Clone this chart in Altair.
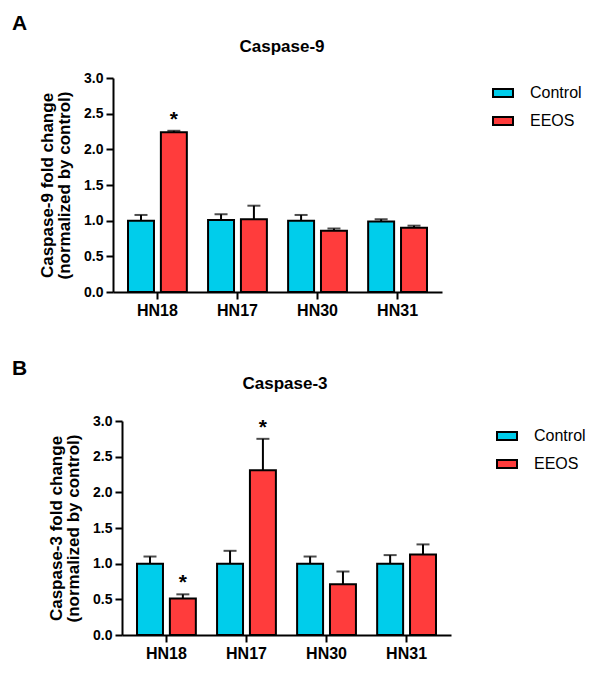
import altair as alt
import pandas as pd

FONT = "Liberation Sans"

cells = ["HN18", "HN17", "HN30", "HN31"]
groups = ["Control", "EEOS"]
colors = ["#00CDEB", "#FF3C3C"]

casp9_control = [1.00, 1.01, 1.00, 0.99]
casp9_control_err = [0.08, 0.08, 0.08, 0.03]
casp9_eeos = [2.24, 1.02, 0.86, 0.90]
casp9_eeos_err = [0.02, 0.19, 0.03, 0.03]
casp9_eeos_sig = [True, False, False, False]

casp3_control = [1.00, 1.00, 1.00, 1.00]
casp3_control_err = [0.10, 0.18, 0.10, 0.12]
casp3_eeos = [0.51, 2.31, 0.71, 1.13]
casp3_eeos_err = [0.06, 0.44, 0.18, 0.14]
casp3_eeos_sig = [True, True, False, False]

y_ticks = [0.0, 0.5, 1.0, 1.5, 2.0, 2.5, 3.0]

PW, H = 329, 214


def make_df(ctrl, ctrl_err, eeos, eeos_err, sig):
    rows = []
    for i, c in enumerate(cells):
        rows.append({"cell": c, "group": "Control", "mean": ctrl[i],
                     "top": ctrl[i] + ctrl_err[i], "sig": False})
        rows.append({"cell": c, "group": "EEOS", "mean": eeos[i],
                     "top": eeos[i] + eeos_err[i], "sig": sig[i]})
    return pd.DataFrame(rows)


def panel(df, title, ytitle, letter, shift, head_dx, head_y, letter_y,
          legend_x, legend_y):
    yscale = alt.Scale(domain=[0, 3], nice=False)
    yaxis = alt.Axis(title=ytitle, values=y_ticks, format=".1f",
                     grid=False, labelFontSize=14,
                     labelFontWeight="bold", labelFont=FONT,
                     labelColor="black", tickSize=7, tickWidth=2,
                     tickColor="black", domainColor="black",
                     domainWidth=2, labelPadding=3, offset=-shift,
                     labelOverlap=False,
                     titleFont=FONT, titleFontSize=17,
                     titleFontWeight="bold", titleColor="black",
                     titlePadding=10, titleLineHeight=17)
    base = alt.Chart(df).encode(
        x=alt.X("cell:N", sort=cells,
                scale=alt.Scale(paddingInner=0.15, paddingOuter=0.13,
                                range=[shift, shift + PW]),
                axis=alt.Axis(title=None, labelAngle=0, labelFontSize=16,
                              labelFontWeight="bold", labelFont=FONT,
                              labelColor="black", tickSize=7, tickWidth=2,
                              tickColor="black", domainColor="black",
                              domainWidth=2, labelPadding=3)),
        xOffset=alt.XOffset("group:N", sort=groups,
                            scale=alt.Scale(paddingInner=0.21, paddingOuter=0.14)),
    )
    bars = base.mark_bar(stroke="black", strokeWidth=2, opacity=1).encode(
        y=alt.Y("mean:Q", scale=yscale, axis=yaxis),
        color=alt.Color("group:N", sort=groups,
                        scale=alt.Scale(domain=groups, range=colors),
                        legend=alt.Legend(title=None, orient="none",
                                          legendX=legend_x, legendY=legend_y,
                                          symbolType="M-1,-0.4H1V0.4H-1Z",
                                          symbolSize=400,
                                          symbolStrokeColor="black",
                                          symbolStrokeWidth=2,
                                          symbolOpacity=1,
                                          labelFont=FONT, labelFontSize=16,
                                          labelColor="black",
                                          labelOffset=16, rowPadding=9)),
    )
    rules = base.mark_rule(color="black", strokeWidth=2).encode(
        y=alt.Y("mean:Q", scale=yscale, axis=yaxis), y2="top:Q")
    caps = base.mark_tick(color="black", size=13, thickness=2).encode(
        y=alt.Y("top:Q", scale=yscale, axis=yaxis))
    stars = base.transform_filter("datum.sig").mark_text(
        text="*", font=FONT, fontSize=21, fontWeight="bold", color="black",
        baseline="alphabetic", dy=-5).encode(
        y=alt.Y("top:Q", scale=yscale, axis=yaxis))
    head = alt.Chart(pd.DataFrame({"t": [title]})).mark_text(
        font=FONT, fontSize=17, fontWeight="bold", color="black",
        align="center", baseline="alphabetic").encode(
        text="t:N", x=alt.value(shift + PW / 2 + head_dx), y=alt.value(head_y))
    lab = alt.Chart(pd.DataFrame({"t": [letter]})).mark_text(
        font=FONT, fontSize=21, fontWeight="bold", color="black",
        align="left", baseline="alphabetic").encode(
        text="t:N", x=alt.value(-101), y=alt.value(letter_y))
    return alt.layer(bars, rules, caps, stars, head, lab).properties(
        width=PW + shift, height=H)


df9 = make_df(casp9_control, casp9_control_err, casp9_eeos, casp9_eeos_err,
              casp9_eeos_sig)
df3 = make_df(casp3_control, casp3_control_err, casp3_eeos, casp3_eeos_err,
              casp3_eeos_sig)

pA = panel(df9, "Caspase-9", ["Caspase-9 fold change", "(normalized by control)"],
           "A", 0, 4.5, -26, -48, 379, 4)
pB = panel(df3, "Caspase-3", ["Caspase-3 fold change", "(normalized by control)"],
           "B", 9, -1.5, -32, -46, 383, 4)

chart = alt.concat(pA, pB, columns=1, spacing=40, align="none").resolve_scale(
    x="independent", y="independent", color="independent"
).resolve_legend(color="independent").properties(
    padding={"left": 4, "top": 5, "right": 0, "bottom": 0}
).configure_view(stroke=None)

chart.save("out.html", embed_options={"renderer": "svg", "actions": False})
